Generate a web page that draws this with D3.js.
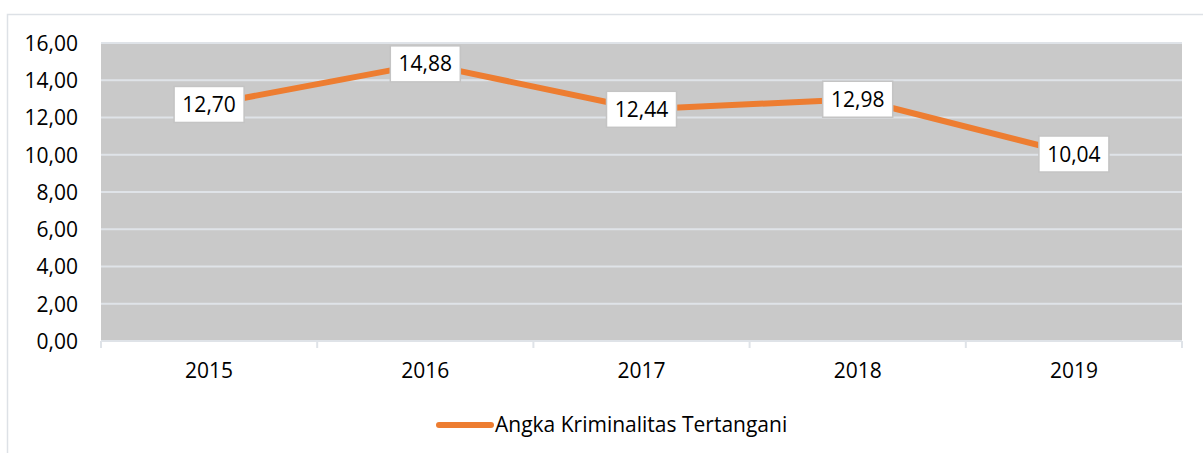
<!DOCTYPE html>
<html>
<head>
	<meta charset="UTF-8">
	<title>Angka Kriminalitas Tertangani</title>
	<script src="https://cdnjs.cloudflare.com/ajax/libs/d3/7.8.5/d3.min.js"></script>
	<style>
		body { margin: 0; background: #fff; }
		svg { display: block; font-family: "Open Sans", sans-serif; }
	</style>
</head>
<body>
	<script>
		// data
		var years = ["2015", "2016", "2017", "2018", "2019"];
		var values = [12.70, 14.88, 12.44, 12.98, 10.04];
		var yTicks = [0, 2, 4, 6, 8, 10, 12, 14, 16];
		var seriesName = "Angka Kriminalitas Tertangani";

		var W = 1203, H = 453;
		var margin = {top: 43, right: 21, bottom: 112, left: 101},
		    width = W - margin.left - margin.right,
		    height = H - margin.top - margin.bottom;

		var fmt = function(v) { return d3.format(".2f")(v).replace(".", ","); };

		var x = d3.scaleBand().domain(years).range([0, width]);
		var y = d3.scaleLinear().domain([0, 16]).range([height, 0]);

		var svg = d3.select("body").append("svg")
		    .attr("width", W)
		    .attr("height", H);

		// outer frame
		svg.append("path")
		    .attr("d", "M7.5," + H + "V14.5H" + W)
		    .attr("fill", "none")
		    .attr("stroke", "#dde1e6")
		    .attr("stroke-width", 1.5);

		var g = svg.append("g")
		    .attr("transform", "translate(" + margin.left + "," + margin.top + ")");

		// plot background
		g.append("rect")
		    .attr("width", width)
		    .attr("height", height)
		    .attr("fill", "#c9c9c9");

		// grid
		g.append("g")
		    .selectAll("line")
		    .data(yTicks)
		    .enter().append("line")
		    .attr("x1", 0).attr("x2", width)
		    .attr("y1", function(d) { return y(d); })
		    .attr("y2", function(d) { return y(d); })
		    .attr("stroke", "#dfe3e8")
		    .attr("stroke-width", 2);

		// y axis labels
		g.append("g")
		    .attr("transform", "translate(-23,0)")
		    .call(d3.axisLeft(y).tickValues(yTicks).tickFormat(fmt).tickSize(0))
		    .call(function(s) { s.select(".domain").remove(); })
		    .selectAll("text")
		    .attr("x", 0)
		    .attr("dy", "0.35em")
		    .style("font-size", "21px")
		    .style("font-family", "Open Sans")
		    .attr("fill", "#000");

		// x axis
		var xa = g.append("g")
		    .attr("transform", "translate(0," + height + ")")
		    .call(d3.axisBottom(x).tickSize(0).tickPadding(22));
		xa.select(".domain").remove();
		xa.selectAll("text")
		    .style("font-size", "21px")
		    .style("font-family", "Open Sans")
		    .attr("fill", "#000");

		// category boundary ticks
		var bounds = years.map(function(d) { return x(d); }).concat([width]);
		g.append("g")
		    .selectAll("line")
		    .data(bounds)
		    .enter().append("line")
		    .attr("x1", function(d) { return d; })
		    .attr("x2", function(d) { return d; })
		    .attr("y1", height)
		    .attr("y2", height + 7)
		    .attr("stroke", "#dfe3e8")
		    .attr("stroke-width", 2);

		// line
		var line = d3.line()
		    .x(function(d, i) { return x(years[i]) + x.bandwidth() / 2; })
		    .y(function(d) { return y(d); });

		g.append("path")
		    .datum(values)
		    .attr("d", line)
		    .attr("fill", "none")
		    .attr("stroke", "#ed7d31")
		    .attr("stroke-width", 6)
		    .attr("stroke-linejoin", "round");

		// data labels
		var lab = g.append("g")
		    .selectAll("g")
		    .data(values)
		    .enter().append("g")
		    .attr("transform", function(d, i) {
		        return "translate(" + (x(years[i]) + x.bandwidth() / 2) + "," + y(d) + ")";
		    });
		lab.append("rect")
		    .attr("x", -35).attr("y", -18)
		    .attr("width", 70).attr("height", 36)
		    .attr("fill", "#fff")
		    .attr("stroke", "#c4c4c4")
		    .attr("stroke-width", 1.5);
		lab.append("text")
		    .attr("text-anchor", "middle")
		    .attr("dy", "0.36em")
		    .style("font-size", "21px")
		    .text(function(d) { return fmt(d); });

		// legend
		var leg = svg.append("g").attr("transform", "translate(437,425)");
		leg.append("line")
		    .attr("x1", 2).attr("x2", 54)
		    .attr("stroke", "#ed7d31")
		    .attr("stroke-width", 6)
		    .attr("stroke-linecap", "round");
		leg.append("text")
		    .attr("x", 58)
		    .attr("dy", "0.35em")
		    .style("font-size", "21px")
		    .text(seriesName);
	</script>
</body>
</html>
